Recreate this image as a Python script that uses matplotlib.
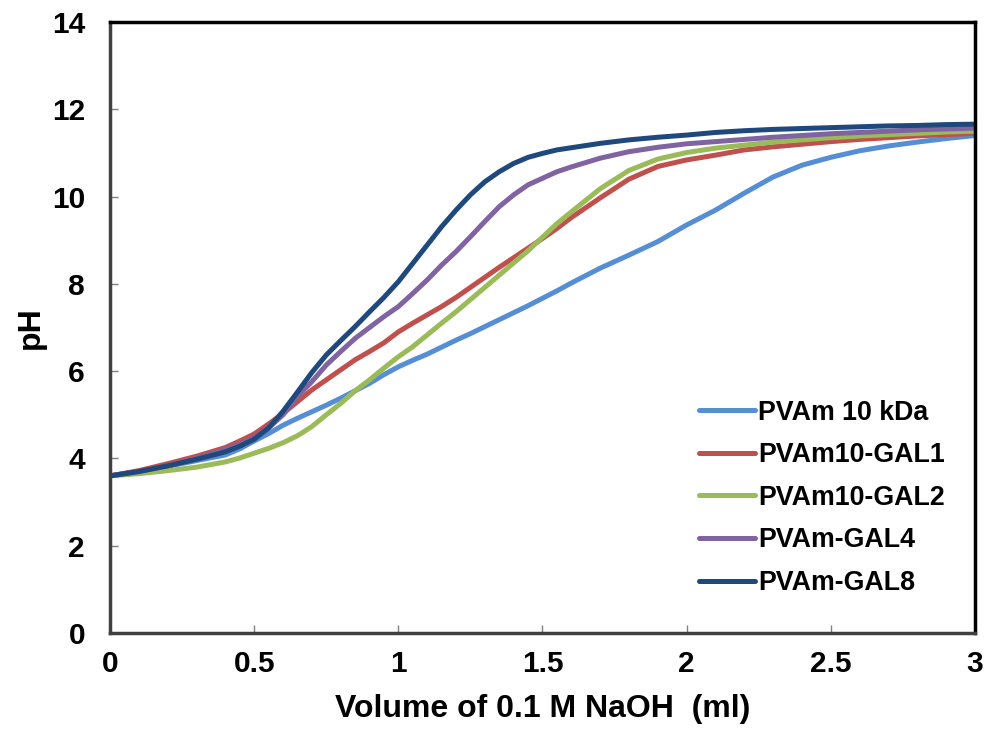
import matplotlib
matplotlib.use("Agg")
import matplotlib.pyplot as plt

plt.rcParams["font.family"] = ["Liberation Sans", "DejaVu Sans"]
plt.rcParams["font.weight"] = "bold"

# volume of 0.1 M NaOH (ml), finer steps where the curves bend
volume = [0.0, 0.1, 0.2, 0.3,
          0.4, 0.45, 0.5, 0.55, 0.6, 0.65, 0.7, 0.75, 0.8, 0.85, 0.9, 0.95,
          1.0, 1.05, 1.1, 1.15, 1.2, 1.25, 1.3, 1.35, 1.4, 1.45, 1.5, 1.55, 1.6,
          1.7, 1.8, 1.9, 2.0, 2.1, 2.2, 2.3, 2.4, 2.5, 2.6, 2.7, 2.8, 2.9, 3.0]

ph_pvam10 = [3.60, 3.70, 3.82, 3.95,
             4.08, 4.22, 4.40, 4.57, 4.76, 4.92, 5.07, 5.22, 5.38, 5.55, 5.72, 5.92,
             6.10, 6.25, 6.39, 6.55, 6.71, 6.86, 7.02, 7.18, 7.34, 7.50, 7.67, 7.84, 8.02,
             8.36, 8.66, 8.97, 9.35, 9.69, 10.08, 10.45, 10.72, 10.90, 11.05, 11.16, 11.25, 11.33, 11.40]
ph_gal1 = [3.60, 3.72, 3.88, 4.05,
           4.25, 4.40, 4.56, 4.79, 5.03, 5.30, 5.57, 5.80, 6.03, 6.26, 6.45, 6.65,
           6.90, 7.10, 7.29, 7.48, 7.69, 7.92, 8.15, 8.38, 8.60, 8.82, 9.04, 9.27, 9.52,
           9.97, 10.40, 10.69, 10.84, 10.95, 11.07, 11.14, 11.20, 11.26, 11.31, 11.35, 11.39, 11.42, 11.45]
ph_gal2 = [3.60, 3.65, 3.72, 3.80,
           3.92, 4.01, 4.12, 4.23, 4.36, 4.52, 4.73, 5.00, 5.26, 5.55, 5.80, 6.07,
           6.33, 6.56, 6.83, 7.10, 7.36, 7.64, 7.92, 8.20, 8.48, 8.76, 9.07, 9.38, 9.65,
           10.18, 10.60, 10.86, 11.01, 11.11, 11.18, 11.25, 11.30, 11.35, 11.39, 11.42, 11.45, 11.48, 11.50]
ph_gal4 = [3.60, 3.70, 3.83, 4.00,
           4.20, 4.33, 4.48, 4.70, 5.00, 5.42, 5.76, 6.14, 6.45, 6.75, 7.00, 7.25,
           7.48, 7.78, 8.09, 8.43, 8.74, 9.08, 9.43, 9.77, 10.04, 10.27, 10.42, 10.57, 10.68,
           10.88, 11.03, 11.13, 11.21, 11.26, 11.31, 11.36, 11.40, 11.44, 11.47, 11.50, 11.53, 11.55, 11.57]
ph_gal8 = [3.60, 3.70, 3.83, 3.98,
           4.15, 4.28, 4.44, 4.70, 5.08, 5.52, 5.97, 6.37, 6.70, 7.02, 7.36, 7.69,
           8.05, 8.47, 8.89, 9.31, 9.69, 10.04, 10.34, 10.57, 10.76, 10.90, 10.99, 11.07, 11.12,
           11.22, 11.30, 11.36, 11.41, 11.47, 11.51, 11.54, 11.56, 11.58, 11.60, 11.62, 11.63, 11.65, 11.66]

labels = ["PVAm 10 kDa", "PVAm10-GAL1", "PVAm10-GAL2", "PVAm-GAL4", "PVAm-GAL8"]
colors = ["#558ED5", "#C0504D", "#9BBB59", "#8064A2", "#1F497D"]

fig = plt.figure(figsize=(9.86, 7.35), dpi=100)
ax = fig.add_axes([0.1116, 0.1388, 0.8772, 0.8312])

for ys, lab, col in zip([ph_pvam10, ph_gal1, ph_gal2, ph_gal4, ph_gal8], labels, colors):
    ax.plot(volume, ys, color=col, lw=3.6, label=lab,
            solid_capstyle="round", solid_joinstyle="round")

ax.set_xlim(0, 3)
ax.set_ylim(0, 14)
ax.set_xticks([0, 0.5, 1, 1.5, 2, 2.5, 3])
ax.set_xticklabels(["0", "0.5", "1", "1.5", "2", "2.5", "3"])
ax.set_yticks(range(0, 15, 2))
ax.tick_params(direction="in", length=6, width=1, color="#808080", labelsize=21.5)
ax.tick_params(axis="x", pad=12)
ax.tick_params(axis="y", pad=18)

for side in ["top", "right"]:
    ax.spines[side].set_linewidth(2.5)
    ax.spines[side].set_color("black")
for side in ["left", "bottom"]:
    ax.spines[side].set_linewidth(2.5)
    ax.spines[side].set_color("#404040")

ax.set_xlabel("Volume of 0.1 M NaOH  (ml)", fontsize=23, fontweight="bold", labelpad=12)
ax.set_ylabel("pH", fontsize=23, fontweight="bold", labelpad=4)

ax.legend(loc="upper left", bbox_to_anchor=(0.653, 0.4216), frameon=False,
          fontsize=19.3, handlelength=2.1, handletextpad=0.1, labelspacing=0.62)

fig.savefig("out.png", dpi=100)
